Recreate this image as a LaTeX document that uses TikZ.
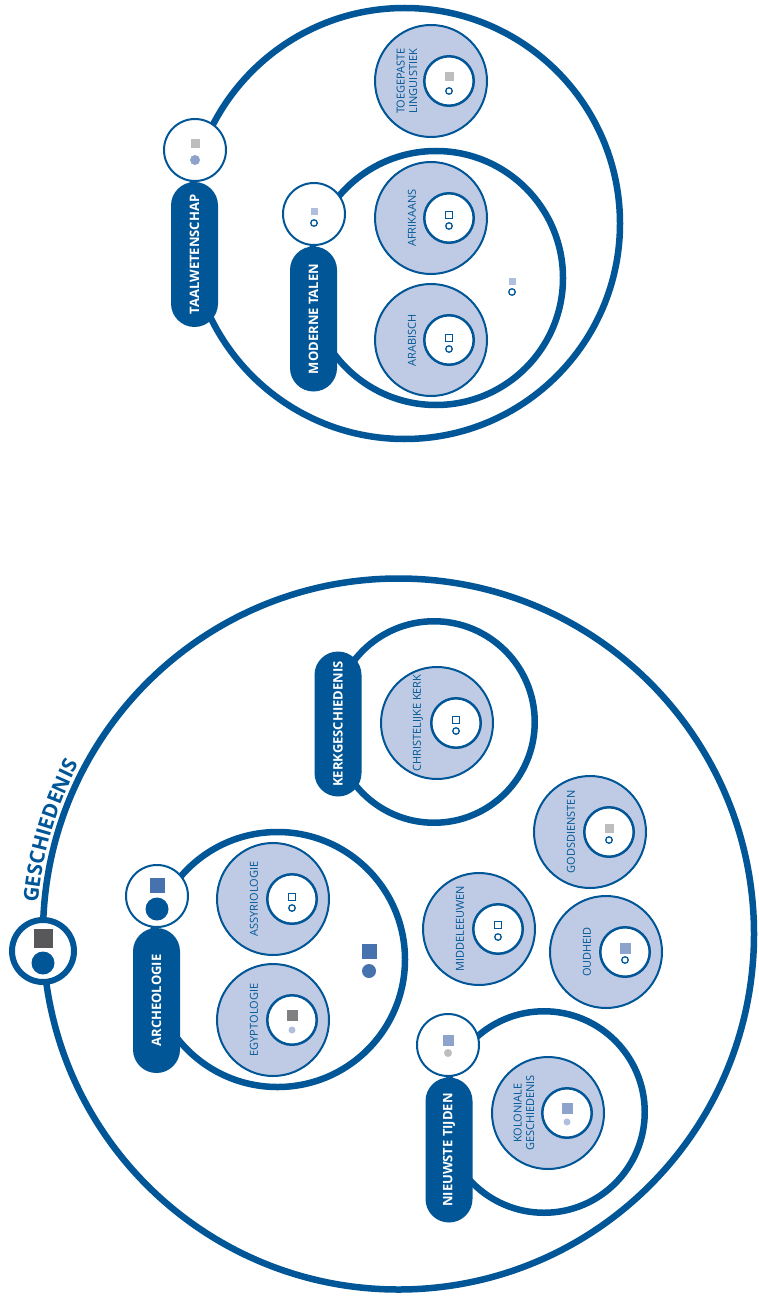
\documentclass[tikz,border=0pt]{standalone}
\usepackage{fontspec}
\setmainfont{Open Sans}
\usepackage{tikz}
\usetikzlibrary{decorations.text}
\definecolor{dblue}{RGB}{0,86,150}
\definecolor{shade}{RGB}{191,203,228}
\definecolor{lgrey}{RGB}{189,189,191}
\definecolor{dgrey}{RGB}{88,88,90}
\definecolor{mgrey}{RGB}{128,128,131}
\definecolor{mblue}{RGB}{70,115,174}
\definecolor{lblue}{RGB}{142,163,204}
\definecolor{pblue}{RGB}{177,191,223}
\tikzstyle{field} = [circle, draw=dblue, line width=6.5pt, fill=white, inner sep=0pt]
\tikzstyle{sub} = [circle, draw=dblue, line width=2pt, fill=shade, inner sep=0pt, minimum size=112pt]
\tikzstyle{core} = [circle, draw=dblue, line width=2.5pt, fill=white, inner sep=0pt, minimum size=49.5pt]
\tikzstyle{badge} = [circle, draw=dblue, line width=2pt, fill=white, inner sep=0pt, minimum size=62pt]
\tikzstyle{pill} = [rectangle, rounded corners=23.5pt, fill=dblue, text=white, font=\bfseries\fontsize{13}{13}\selectfont, minimum width=145pt, minimum height=47pt, inner sep=0pt, rotate=90]
\tikzstyle{lbl} = [text=dblue, font=\fontsize{11}{12.5}\selectfont, align=center, inner sep=0pt, rotate=90]
\tikzstyle{sq} = [rectangle, inner sep=0pt, minimum size=9pt]
\tikzstyle{dot} = [circle, inner sep=0pt, minimum size=7pt]
\tikzstyle{osq} = [rectangle, draw=dblue, line width=1.3pt, fill=white, inner sep=0pt, minimum size=7pt]
\tikzstyle{odot} = [circle, draw=dblue, line width=1.3pt, fill=white, inner sep=0pt, minimum size=6.5pt]

\begin{document}
\begin{tikzpicture}[x=1pt, y=-1pt]
\useasboundingbox (0,0) rectangle (758,1297);

% taalwetenschap ==========================

\node[field, minimum size=431pt] (taal) at (404.5,223.5) {};
\node[field, minimum size=254pt] (mod) at (436,278) {};

% subfields
\node[sub] (toeg) at (431,81) {};
\node[sub] (afr) at (431,218) {};
\node[sub] (arab) at (431,340) {};
\node[core] (toeg-c) at ([xshift=18pt]toeg.center) {};
\node[core] (afr-c) at ([xshift=18pt]afr.center) {};
\node[core] (arab-c) at ([xshift=18pt]arab.center) {};
\node[lbl] (toeg-l) at ([xshift=-24pt]toeg.center) {TOEGEPASTE\\LINGUISTIEK};
\node[lbl] (afr-l) at ([xshift=-19pt]afr.center) {AFRIKAANS};
\node[lbl] (arab-l) at ([xshift=-19pt]arab.center) {ARABISCH};

% pills and badges
\node[pill] (taal-p) at (194.5,254.5) {TAALWETENSCHAP};
\node[badge] (taal-b) at (195,150) {};
\node[pill] (mod-p) at (313.5,319) {MODERNE TALEN};
\node[badge] (mod-b) at (314,214) {};

% markers
\node[sq, fill=lgrey] (taal-s) at ([yshift=6pt]taal-b.center) {};
\node[dot, fill=lblue, minimum size=10pt] (taal-d) at ([yshift=-10pt]taal-b.center) {};
\node[sq, fill=pblue, minimum size=7pt] (mod-s) at ([yshift=2pt]mod-b.center) {};
\node[odot] (mod-d) at ([yshift=-9pt]mod-b.center) {};
\node[sq, fill=pblue, minimum size=7pt] (mod-fs) at (512,281) {};
\node[odot] (mod-fd) at (512,292) {};
\node[sq, fill=lgrey] (toeg-s) at ([yshift=4pt]toeg-c.center) {};
\node[odot] (toeg-d) at ([yshift=-10pt]toeg-c.center) {};
\node[osq] (afr-s) at ([yshift=3pt]afr-c.center) {};
\node[odot] (afr-d) at ([yshift=-8pt]afr-c.center) {};
\node[osq] (arab-s) at ([yshift=2pt]arab-c.center) {};
\node[odot] (arab-d) at ([yshift=-9pt]arab-c.center) {};

% geschiedenis ============================

\node[field, minimum size=711pt] (ges) at (398.5,934) {};
\node[field, minimum size=255pt] (arch) at (277.5,959.5) {};
\node[field, minimum size=201.5pt] (kerk) at (434,722) {};
\node[field, minimum size=201.5pt] (nieuw) at (544,1112) {};

% subfields
\node[sub] (assy) at (273,899) {};
\node[sub] (egy) at (273,1020) {};
\node[sub] (chr) at (437,723) {};
\node[sub] (gods) at (590,832) {};
\node[sub] (midd) at (479,929) {};
\node[sub] (oud) at (606,952) {};
\node[sub] (kol) at (548,1113) {};
\node[core] (assy-c) at ([xshift=19pt]assy.center) {};
\node[core] (egy-c) at ([xshift=19pt]egy.center) {};
\node[core] (chr-c) at ([xshift=19pt]chr.center) {};
\node[core] (gods-c) at ([xshift=19pt]gods.center) {};
\node[core] (midd-c) at ([xshift=19pt]midd.center) {};
\node[core] (oud-c) at ([xshift=19pt]oud.center) {};
\node[core] (kol-c) at ([xshift=19pt]kol.center) {};
\node[lbl] (assy-l) at ([xshift=-19pt]assy.center) {ASSYRIOLOGIE};
\node[lbl] (egy-l) at ([xshift=-19pt]egy.center) {EGYPTOLOGIE};
\node[lbl] (chr-l) at ([xshift=-19pt]chr.center) {CHRISTELIJKE KERK};
\node[lbl] (gods-l) at ([xshift=-19pt]gods.center) {GODSDIENSTEN};
\node[lbl] (midd-l) at ([xshift=-19pt]midd.center) {MIDDELEEUWEN};
\node[lbl] (oud-l) at ([xshift=-19pt]oud.center) {OUDHEID};
\node[lbl] (kol-l) at ([xshift=-24pt]kol.center) {KOLONIALE\\GESCHIEDENIS};

% pills and badges
\node[pill] (arch-p) at (156.5,1000.5) {ARCHEOLOGIE};
\node[badge] (arch-b) at (157,896) {};
\node[pill] (kerk-p) at (338,724) {KERKGESCHIEDENIS};
\node[pill] (nieuw-p) at (449,1150) {NIEUWSTE TIJDEN};
\node[badge] (nieuw-b) at (448,1045) {};
\node[badge, line width=6pt] (ges-b) at (43,951) {};

% title
\path[decorate, decoration={text along path, text align=center, text color=dblue,
  text={|\bfseries\fontsize{20.5}{20.5}\selectfont|GESCHIEDENIS}}]
  (ges) ++(179:362) arc[start angle=179, end angle=214, radius=362];

% markers
\node[sq, fill=dgrey, minimum size=19pt] (ges-s) at ([yshift=13pt]ges-b.center) {};
\node[dot, fill=dblue, minimum size=23pt] (ges-d) at ([yshift=-12pt]ges-b.center) {};
\node[sq, fill=mblue, minimum size=15pt] (arch-s) at ([yshift=11pt]arch-b.center) {};
\node[dot, fill=dblue, minimum size=23pt] (arch-d) at ([yshift=-13pt]arch-b.center) {};
\node[sq, fill=mblue, minimum size=15pt] (arch-fs) at (369,951) {};
\node[dot, fill=mblue, minimum size=14pt] (arch-fd) at (369,971) {};
\node[sq, fill=lblue, minimum size=11pt] (nieuw-s) at ([yshift=5pt]nieuw-b.center) {};
\node[dot, fill=lgrey, minimum size=8pt] (nieuw-d) at ([yshift=-8pt]nieuw-b.center) {};
\node[osq] (assy-s) at ([yshift=2pt]assy-c.center) {};
\node[odot] (assy-d) at ([yshift=-9pt]assy-c.center) {};
\node[sq, fill=mgrey, minimum size=11pt] (egy-s) at ([yshift=5pt]egy-c.center) {};
\node[dot, fill=pblue] (egy-d) at ([yshift=-10pt]egy-c.center) {};
\node[osq] (chr-s) at ([yshift=3pt]chr-c.center) {};
\node[odot] (chr-d) at ([yshift=-8pt]chr-c.center) {};
\node[sq, fill=lgrey] (gods-s) at ([yshift=4pt]gods-c.center) {};
\node[odot] (gods-d) at ([yshift=-8pt]gods-c.center) {};
\node[osq] (midd-s) at ([yshift=4pt]midd-c.center) {};
\node[odot] (midd-d) at ([yshift=-8pt]midd-c.center) {};
\node[sq, fill=lblue, minimum size=11pt] (oud-s) at ([yshift=4pt]oud-c.center) {};
\node[odot] (oud-d) at ([yshift=-8pt]oud-c.center) {};
\node[sq, fill=lblue, minimum size=11pt] (kol-s) at ([yshift=5pt]kol-c.center) {};
\node[dot, fill=pblue] (kol-d) at ([yshift=-9pt]kol-c.center) {};

\end{tikzpicture}
\end{document}
